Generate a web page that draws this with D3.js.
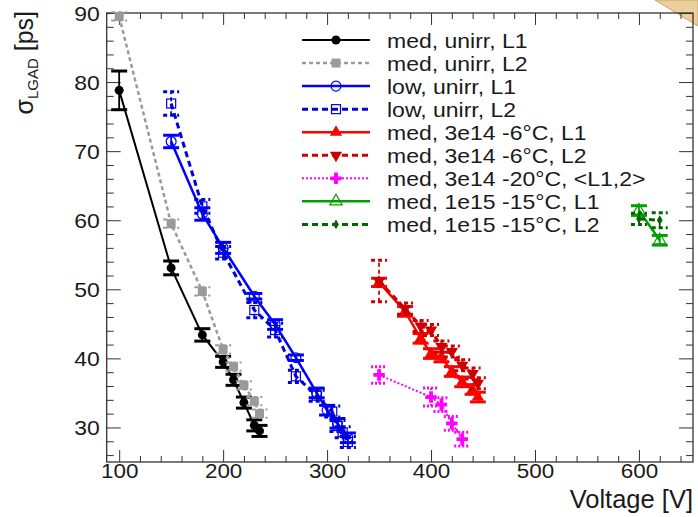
<!DOCTYPE html>
<html>
<head>
<meta charset="utf-8">
<script src="https://cdn.jsdelivr.net/npm/d3@7"></script>
<style>
  html, body { margin: 0; padding: 0; background: #fff; }
  svg { display: block; }
  text { font-family: "Liberation Sans", Arial, Helvetica, sans-serif; fill: #1a1a1a; }
</style>
</head>
<body>
<svg id="chart" width="698" height="517"></svg>
<script>
// ---- measurements: time resolution vs bias voltage ----
const medUnirrL1V   = [100, 150, 180, 200, 210, 220, 230, 235];
const medUnirrL1S   = [78.8, 53.1, 43.4, 39.5, 36.9, 33.6, 30.3, 29.5];
const medUnirrL1E   = [2.8, 1.0, 0.9, 0.8, 0.8, 0.8, 0.8, 0.8];

const medUnirrL2V   = [100, 150, 180, 200, 210, 220, 230, 235];
const medUnirrL2S   = [89.5, 59.5, 49.7, 41.3, 38.8, 36.1, 33.8, 32.0];
const medUnirrL2E   = [0.6, 0.6, 0.6, 0.6, 0.6, 0.6, 0.6, 0.6];

const lowUnirrL1V   = [150, 180, 200, 230, 250, 270, 290, 300, 310, 320];
const lowUnirrL1S   = [71.4, 60.9, 56.0, 49.0, 44.9, 40.1, 35.0, 32.5, 30.6, 28.5];
const lowUnirrL1E   = [0.9, 0.9, 0.8, 0.4, 0.7, 0.4, 0.7, 0.7, 0.7, 0.7];

const lowUnirrL2V   = [150, 180, 200, 230, 250, 270, 290, 305, 310, 315, 320];
const lowUnirrL2S   = [76.9, 62.0, 55.3, 47.0, 44.1, 37.4, 34.6, 32.3, 30.2, 29.3, 27.9];
const lowUnirrL2E   = [1.7, 1.0, 0.9, 1.1, 1.0, 0.9, 0.8, 0.8, 0.8, 0.8, 0.8];

const med3e14m6L1V  = [350, 375, 390, 400, 410, 420, 430, 440, 445];
const med3e14m6L1S  = [51.0, 46.8, 42.9, 40.7, 40.2, 38.1, 36.6, 35.5, 34.4];
const med3e14m6L1E  = [0.6, 0.7, 0.7, 0.7, 0.7, 0.7, 0.7, 0.7, 0.7];

const med3e14m6L2V  = [350, 375, 390, 400, 410, 420, 430, 440, 445];
const med3e14m6L2S  = [51.2, 47.2, 44.7, 44.1, 41.7, 41.0, 39.0, 37.8, 36.4];
const med3e14m6L2E  = [3.0, 0.8, 0.8, 0.8, 0.8, 0.8, 0.8, 0.8, 0.8];

const med3e14m20V   = [350, 400, 410, 420, 430];
const med3e14m20S   = [37.6, 34.4, 33.3, 30.6, 28.3];
const med3e14m20E   = [1.2, 1.3, 1.0, 1.0, 1.0];

const med1e15L1V    = [600, 620];
const med1e15L1S    = [61.4, 57.1];
const med1e15L1E    = [0.7, 0.7];

const med1e15L2V    = [600, 620];
const med1e15L2S    = [60.2, 60.0];
const med1e15L2E    = [0.8, 1.1];

const seriesLabels = [
  "med, unirr, L1", "med, unirr, L2", "low, unirr, L1", "low, unirr, L2",
  "med, 3e14 -6°C, L1", "med, 3e14 -6°C, L2", "med, 3e14 -20°C, <L1,2>",
  "med, 1e15 -15°C, L1", "med, 1e15 -15°C, L2"
];

const xTickValues = [100, 200, 300, 400, 500, 600];
const yTickValues = [30, 40, 50, 60, 70, 80, 90];
const xTitle = "Voltage [V]";

// ---- styles per series ----
const styles = [
  { color: "#000000", dash: null,  width: 2,   marker: "circleFilled",  errW: 3 },
  { color: "#9a9a9a", dash: "4,3", width: 2.5, marker: "squareFilled",  errW: 2 },
  { color: "#0000ff", dash: null,  width: 2.5, marker: "circleOpen",    errW: 3 },
  { color: "#0000dd", dash: "6,4", width: 3,   marker: "squareOpen",    errW: 3 },
  { color: "#ff0000", dash: null,  width: 2.5, marker: "triUp",         errW: 3 },
  { color: "#cc0000", dash: "6,4", width: 3,   marker: "triDown",       errW: 3 },
  { color: "#ff00ff", dash: "2,2", width: 2,   marker: "cross",         errW: 3 },
  { color: "#00a000", dash: null,  width: 2.5, marker: "triUpOpen",     errW: 3 },
  { color: "#006600", dash: "6,4", width: 3,   marker: "diamond",       errW: 3 }
];

const seriesData = [
  [medUnirrL1V, medUnirrL1S, medUnirrL1E],
  [medUnirrL2V, medUnirrL2S, medUnirrL2E],
  [lowUnirrL1V, lowUnirrL1S, lowUnirrL1E],
  [lowUnirrL2V, lowUnirrL2S, lowUnirrL2E],
  [med3e14m6L1V, med3e14m6L1S, med3e14m6L1E],
  [med3e14m6L2V, med3e14m6L2S, med3e14m6L2E],
  [med3e14m20V, med3e14m20S, med3e14m20E],
  [med1e15L1V, med1e15L1S, med1e15L1E],
  [med1e15L2V, med1e15L2S, med1e15L2E]
].map(([vs, ss, es], i) => ({
  label: seriesLabels[i],
  style: styles[i],
  points: vs.map((v, j) => ({ v, s: ss[j], e: es[j] }))
}));

// ---- frame & scales ----
const svg = d3.select("#chart");
const L = 106.7, R = 693, T = 13, B = 462;
const x = d3.scaleLinear().domain([88, 652]).range([L, R]);
const y = d3.scaleLinear().domain([25, 90]).range([B, T]);
const TX = 1.15; // horizontal glyph stretch

// decorative folded corner
svg.append("polygon")
  .attr("points", "655,0 698,0 698,26")
  .attr("fill", "#eccf9c")
  .attr("stroke", "#c9a468")
  .attr("stroke-width", 1);

// ---- axes: ticks drawn inside the frame ----
const xMinor = d3.range(100, 651, 20).filter(v => v % 100 !== 0);
const yMinor = d3.range(26, 90, 2).filter(v => v % 10 !== 0);

function clean(g) { g.select(".domain").remove(); g.selectAll("line").attr("stroke", "#333"); }

svg.append("g").attr("transform", `translate(0,${B})`)
  .call(d3.axisBottom(x).tickValues(xTickValues).tickSize(-12).tickPadding(16))
  .call(clean)
  .call(g => g.selectAll("text").attr("font-size", 19.5).attr("fill", "#1a1a1a")
                .attr("dy", 0).attr("font-family", "Liberation Sans, Arial, sans-serif")
                .attr("transform", `scale(${TX},1)`));
svg.append("g").attr("transform", `translate(0,${B})`)
  .call(d3.axisBottom(x).tickValues(xMinor).tickSize(-6).tickFormat(""))
  .call(clean);
svg.append("g").attr("transform", `translate(0,${T})`)
  .call(d3.axisTop(x).tickValues(xTickValues).tickSize(-12).tickFormat(""))
  .call(clean);
svg.append("g").attr("transform", `translate(0,${T})`)
  .call(d3.axisTop(x).tickValues(xMinor).tickSize(-6).tickFormat(""))
  .call(clean);

svg.append("g").attr("transform", `translate(${L},0)`)
  .call(d3.axisLeft(y).tickValues(yTickValues).tickSize(-14).tickPadding(7))
  .call(clean)
  .call(g => g.selectAll("text").attr("font-size", 20).attr("fill", "#1a1a1a")
                .attr("x", -6).attr("dy", "0.36em").attr("font-family", "Liberation Sans, Arial, sans-serif")
                .attr("transform", `scale(${TX},1)`));
svg.append("g").attr("transform", `translate(${L},0)`)
  .call(d3.axisLeft(y).tickValues(yMinor).tickSize(-7).tickFormat(""))
  .call(clean);
svg.append("g").attr("transform", `translate(${R},0)`)
  .call(d3.axisRight(y).tickValues(yTickValues).tickSize(-14).tickFormat(""))
  .call(clean);
svg.append("g").attr("transform", `translate(${R},0)`)
  .call(d3.axisRight(y).tickValues(yMinor).tickSize(-7).tickFormat(""))
  .call(clean);

svg.append("rect")
  .attr("x", L).attr("y", T).attr("width", R - L).attr("height", B - T)
  .attr("fill", "none").attr("stroke", "#333").attr("stroke-width", 1.3);

// ---- axis titles ----
svg.append("text")
  .attr("transform", `translate(693,508)`)
  .attr("text-anchor", "end").attr("font-size", 25.5)
  .text(xTitle);

const yt = svg.append("text")
  .attr("transform", "translate(33,11) rotate(-90)")
  .attr("text-anchor", "end").attr("font-size", 25);
yt.append("tspan").text("σ");
yt.append("tspan").attr("font-size", 15).attr("dy", 5).text("LGAD");
yt.append("tspan").attr("dy", -5).text(" [ps]");

// ---- markers ----
function drawMarker(g, type, color, size) {
  const s = size;
  switch (type) {
    case "circleFilled":
      g.append("circle").attr("r", s * 0.5).attr("fill", color); break;
    case "circleOpen":
      g.append("circle").attr("r", s * 0.55).attr("fill", "none").attr("stroke", color).attr("stroke-width", 1.2); break;
    case "squareFilled":
      g.append("rect").attr("x", -s / 2).attr("y", -s / 2).attr("width", s).attr("height", s).attr("fill", color); break;
    case "squareOpen":
      g.append("rect").attr("x", -s / 2).attr("y", -s / 2).attr("width", s).attr("height", s)
        .attr("fill", "none").attr("stroke", color).attr("stroke-width", 1.2); break;
    case "triUp":
      g.append("path").attr("d", d3.symbol(d3.symbolTriangle, s * s * 0.8)()).attr("fill", color); break;
    case "triDown":
      g.append("path").attr("d", d3.symbol(d3.symbolTriangle, s * s * 0.8)()).attr("transform", "rotate(180)").attr("fill", color); break;
    case "triUpOpen":
      g.append("path").attr("d", d3.symbol(d3.symbolTriangle, s * s * 0.8)()).attr("fill", "none")
        .attr("stroke", color).attr("stroke-width", 1.2); break;
    case "cross":
      g.append("path").attr("d", d3.symbol(d3.symbolCross, s * s * 0.9)()).attr("fill", color); break;
    case "diamond":
      g.append("path").attr("d", d3.symbol(d3.symbolDiamond, s * s * 0.35)()).attr("fill", color); break;
  }
}

const line = d3.line().x(d => x(d.v)).y(d => y(d.s));
const plot = svg.append("g");
const cap = 8;

seriesData.forEach(sd => {
  const st = sd.style;
  const g = plot.append("g");
  g.append("path").datum(sd.points)
    .attr("d", line).attr("fill", "none")
    .attr("stroke", st.color).attr("stroke-width", st.width)
    .attr("stroke-dasharray", st.dash);
  const eb = g.selectAll(".eb").data(sd.points).join("g")
    .attr("stroke", st.color).attr("stroke-width", st.errW)
    .attr("stroke-dasharray", st.dash ? (st.dash === "2,2" ? "2,2" : "4,3") : null);
  eb.append("line").attr("x1", d => x(d.v)).attr("x2", d => x(d.v))
    .attr("y1", d => y(d.s - d.e)).attr("y2", d => y(d.s + d.e)).attr("stroke-width", 1.8);
  eb.append("line").attr("x1", d => x(d.v) - cap).attr("x2", d => x(d.v) + cap)
    .attr("y1", d => y(d.s + d.e)).attr("y2", d => y(d.s + d.e));
  eb.append("line").attr("x1", d => x(d.v) - cap).attr("x2", d => x(d.v) + cap)
    .attr("y1", d => y(d.s - d.e)).attr("y2", d => y(d.s - d.e));
  sd.points.forEach(p => {
    const m = g.append("g").attr("transform", `translate(${x(p.v)},${y(p.s)})`);
    drawMarker(m, st.marker, st.color, 9);
  });
});

// ---- legend ----
const legend = svg.append("g");
seriesData.forEach((sd, i) => {
  const st = sd.style;
  const ry = 40 + i * 23.05;
  legend.append("line").attr("x1", 302).attr("x2", 370).attr("y1", ry).attr("y2", ry)
    .attr("stroke", st.color).attr("stroke-width", st.width).attr("stroke-dasharray", st.dash);
  const m = legend.append("g").attr("transform", `translate(336,${ry})`);
  drawMarker(m, st.marker, st.color, 9);
  legend.append("text")
    .attr("transform", `translate(387,${ry + 7.5}) scale(1.15,1)`)
    .attr("font-size", 20)
    .text(sd.label);
});
</script>
</body>
</html>
